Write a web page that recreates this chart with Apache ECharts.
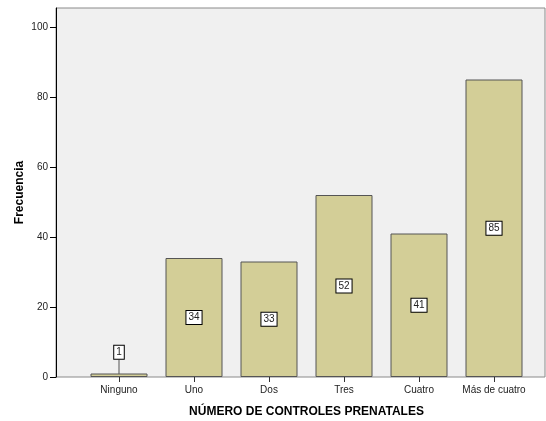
<!DOCTYPE html>
<html><head><meta charset="utf-8">
<script src="https://cdn.jsdelivr.net/npm/echarts@6/dist/echarts.min.js"></script>
<style>html,body{margin:0;padding:0;background:#fff}#c{width:546px;height:421px}</style>
</head><body><div id="c"></div>
<script>
const categories = ['Ninguno','Uno','Dos','Tres','Cuatro','Más de cuatro'];
const frecuencia = [1,34,33,52,41,85];
const yTicks = [0,20,40,60,80,100];
const FONT = 'Liberation Sans, Arial, sans-serif';
const chart = echarts.init(document.getElementById('c'));
chart.setOption({
  animation:false,
  backgroundColor:'#fff',
  grid:[
    {left:56, top:8, width:489, height:369, show:true, backgroundColor:'#f0f0f0', borderColor:'#8a8a8a', borderWidth:1, outerBoundsMode:'none', containLabel:false},
    {left:81.5, top:27, width:450, height:350, outerBoundsMode:'none', containLabel:false}
  ],
  xAxis:[
    {gridIndex:0, type:'value', show:false, min:0, max:1},
    {gridIndex:1, type:'category', data:categories,
     axisLine:{show:false},
     axisTick:{show:true, alignWithLabel:true, length:5, lineStyle:{color:'#333'}},
     axisLabel:{color:'#222', fontSize:10, fontFamily:FONT, margin:8, interval:0},
     name:'NÚMERO DE CONTROLES PRENATALES', nameLocation:'middle', nameGap:29,
     nameTextStyle:{fontSize:12, fontWeight:'bold', color:'#000', fontFamily:FONT}
    }
  ],
  yAxis:[
    {gridIndex:0, type:'value', min:0, max:1, axisLine:{show:true, lineStyle:{color:'#000', width:1}}, axisTick:{show:false}, axisLabel:{show:false}, splitLine:{show:false},
     name:'Frecuencia', nameLocation:'middle', nameGap:30, nameRotate:90,
     nameTextStyle:{fontSize:12, fontWeight:'bold', color:'#000', fontFamily:FONT}
    },
    {gridIndex:1, type:'value', min:0, max:100, interval:20, offset:25.5,
     axisLine:{show:false},
     axisTick:{show:true, length:6, lineStyle:{color:'#000'}},
     axisLabel:{color:'#222', fontSize:10, fontFamily:FONT, margin:8, customValues:yTicks},
     splitLine:{show:false}
    }
  ],
  series:[{
    type:'bar', xAxisIndex:1, yAxisIndex:1, data:frecuencia,
    barCategoryGap:'24%',
    itemStyle:{color:'#d3ce97', borderColor:'#555', borderWidth:1},
    label:{show:true, position:'inside', color:'#222', fontSize:10, fontFamily:FONT,
      backgroundColor:'#fff', borderColor:'#000', borderWidth:1, padding:[2,2,1,2]},
    labelLine:{show:true, lineStyle:{color:'#555', width:1}},
    labelLayout:function(p){ return p.dataIndex===0 ? {dy:-23} : {}; }
  }]
});
</script></body></html>
